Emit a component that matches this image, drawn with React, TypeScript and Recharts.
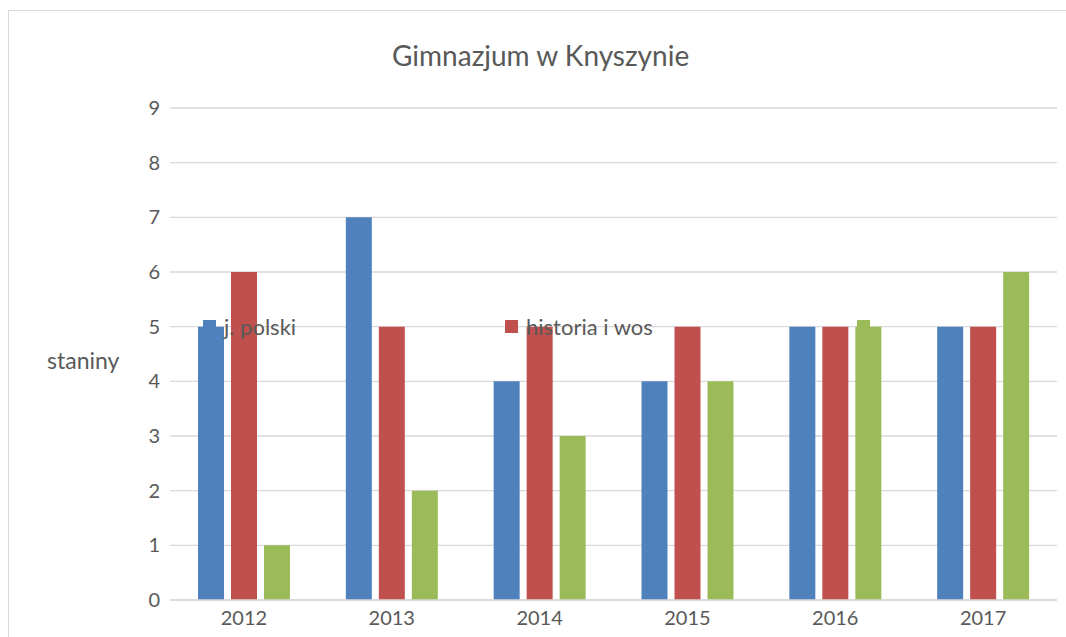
import React from "react";
import { Bar, BarChart, CartesianGrid, Legend, XAxis, YAxis } from "recharts";

const years = ["2012", "2013", "2014", "2015", "2016", "2017"];
const polski = [5, 7, 4, 4, 5, 5];
const historia = [6, 5, 5, 5, 5, 5];
const trzecia = [1, 2, 3, 4, 5, 6];
const yTicks = [0, 1, 2, 3, 4, 5, 6, 7, 8, 9];

const series = [
  { key: "polski", name: "j. polski", color: "#4F81BD" },
  { key: "historia", name: "historia i wos", color: "#C0504D" },
  { key: "trzecia", name: "", color: "#9BBB59" },
];

const data = years.map((year, i) => ({
  year,
  polski: polski[i],
  historia: historia[i],
  trzecia: trzecia[i],
}));

const FONT = "Lato, 'Open Sans', sans-serif";
const TEXT = "#595959";
const legendLeft = [194, 496, 848];

function LegendBox() {
  return (
    <div style={{ position: "relative", width: 1000, height: 20 }}>
      {series.map((s, i) => (
        <div
          key={s.key}
          style={{
            position: "absolute",
            left: legendLeft[i],
            top: 0,
            height: 13,
            display: "flex",
            alignItems: "center",
            fontFamily: FONT,
            fontSize: 22,
            color: TEXT,
            whiteSpace: "nowrap",
          }}
        >
          <span style={{ width: 13, height: 13, background: s.color, display: "inline-block", marginRight: 8 }} />
          {s.name}
        </div>
      ))}
    </div>
  );
}

export default function App() {
  return (
    <div style={{ width: 1066, height: 637, overflow: "hidden", position: "relative", background: "#fff" }}>
      <style>{"html,body{margin:0;padding:0;overflow:hidden;}"}</style>
      <div
        style={{
          position: "absolute",
          left: 8,
          top: 10,
          width: 1070,
          height: 640,
          borderTop: "1px solid #d9d9d9",
          borderLeft: "1px solid #d9d9d9",
          background: "#fff",
        }}
      >
        <div
          style={{
            position: "absolute",
            left: 383,
            top: 27,
            fontFamily: FONT,
            fontSize: 28,
            color: TEXT,
            whiteSpace: "nowrap",
          }}
        >
          Gimnazjum w Knyszynie
        </div>
        <div
          style={{
            position: "absolute",
            left: 38,
            top: 335,
            fontFamily: FONT,
            fontSize: 23,
            color: TEXT,
          }}
        >
          staniny
        </div>
        <BarChart
          width={1060}
          height={630}
          data={data}
          margin={{ top: 97, right: 12, bottom: 11, left: 101 }}
          barSize={26}
          barGap={7}
        >
          <CartesianGrid vertical={false} stroke="#d9d9d9" strokeWidth={1.3} />
          <XAxis
            dataKey="year"
            height={30}
            axisLine={{ stroke: "#d9d9d9", strokeWidth: 1.3 }}
            tickLine={false}
            tickMargin={5}
            tick={{ fill: TEXT, fontSize: 20, fontFamily: FONT }}
          />
          <YAxis
            width={60}
            domain={[0, 9]}
            ticks={yTicks}
            interval={0}
            axisLine={false}
            tickLine={false}
            tickSize={0}
            tickMargin={10}
            tick={{ fill: TEXT, fontSize: 20, fontFamily: FONT }}
          />
          {series.map((s) => (
            <Bar key={s.key} dataKey={s.key} name={s.name} fill={s.color} isAnimationActive={false} />
          ))}
          <Legend
            verticalAlign="middle"
            align="center"
            content={<LegendBox />}
            wrapperStyle={{ left: 0, top: 309, width: 1000 }}
          />
        </BarChart>
      </div>
    </div>
  );
}
